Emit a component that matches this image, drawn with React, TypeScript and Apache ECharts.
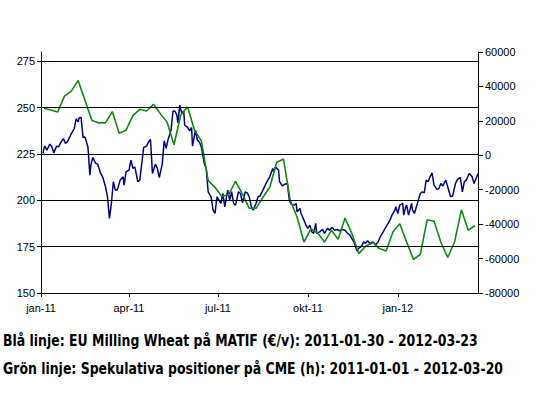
import React, { useEffect, useRef } from "react";
import * as echarts from "echarts";

// Blue line: EU Milling Wheat (EUR/t), left axis
const blueDates: string[] = [
  "2011-01-03","2011-01-04","2011-01-05","2011-01-07","2011-01-10","2011-01-12","2011-01-14","2011-01-17","2011-01-19","2011-01-21",
  "2011-01-24","2011-01-26","2011-01-28","2011-02-01","2011-02-04","2011-02-06","2011-02-08","2011-02-09","2011-02-11","2011-02-13",
  "2011-02-15","2011-02-18","2011-02-20","2011-02-21","2011-02-23","2011-02-26","2011-02-28","2011-03-03","2011-03-05","2011-03-08",
  "2011-03-10","2011-03-12","2011-03-14","2011-03-16","2011-03-18","2011-03-20","2011-03-23","2011-03-26","2011-03-27","2011-03-29",
  "2011-04-01","2011-04-03","2011-04-05","2011-04-07","2011-04-10","2011-04-12","2011-04-14","2011-04-16","2011-04-19","2011-04-21",
  "2011-04-23","2011-04-25","2011-04-28","2011-04-30","2011-05-02","2011-05-05","2011-05-07","2011-05-09","2011-05-11","2011-05-14",
  "2011-05-16","2011-05-18","2011-05-20","2011-05-21","2011-05-23","2011-05-25","2011-05-27","2011-05-28","2011-05-31","2011-06-02",
  "2011-06-04","2011-06-05","2011-06-08","2011-06-10","2011-06-12","2011-06-14","2011-06-17","2011-06-19","2011-06-21","2011-06-24",
  "2011-06-26","2011-06-28","2011-06-30","2011-07-01","2011-07-04","2011-07-06","2011-07-08","2011-07-11","2011-07-13","2011-07-15",
  "2011-07-17","2011-07-19","2011-07-22","2011-07-24","2011-07-26","2011-07-29","2011-07-31","2011-08-02","2011-08-04","2011-08-06",
  "2011-08-09","2011-08-11","2011-08-13","2011-08-16","2011-08-20","2011-08-23","2011-08-26","2011-08-27","2011-08-29","2011-09-01",
  "2011-09-02","2011-09-05","2011-09-07","2011-09-10","2011-09-12","2011-09-14","2011-09-17","2011-09-19","2011-09-20","2011-09-23",
  "2011-09-24","2011-09-27","2011-09-29","2011-10-01","2011-10-03","2011-10-05","2011-10-07","2011-10-09","2011-10-10","2011-10-13",
  "2011-10-16","2011-10-18","2011-10-21","2011-10-23","2011-10-26","2011-10-28","2011-10-31","2011-11-02","2011-11-05","2011-11-08",
  "2011-11-10","2011-11-13","2011-11-14","2011-11-17","2011-11-19","2011-11-20","2011-11-22","2011-11-25","2011-11-27","2011-11-29",
  "2011-12-01","2011-12-04","2011-12-07","2011-12-09","2011-12-12","2011-12-14","2011-12-17","2011-12-19","2011-12-22","2011-12-24",
  "2011-12-26","2011-12-29","2011-12-30","2012-01-01","2012-01-03","2012-01-06","2012-01-07","2012-01-09","2012-01-10","2012-01-12",
  "2012-01-15","2012-01-16","2012-01-18","2012-01-20","2012-01-22","2012-01-24","2012-01-26","2012-01-28","2012-01-30","2012-02-01",
  "2012-02-03","2012-02-05","2012-02-07","2012-02-10","2012-02-12","2012-02-14","2012-02-16","2012-02-19","2012-02-21","2012-02-24",
  "2012-02-26","2012-02-29","2012-03-02","2012-03-05","2012-03-07","2012-03-09","2012-03-11","2012-03-14","2012-03-17","2012-03-19",
  "2012-03-23"
];
const blueValues: number[] = [
  225.3,228.0,229.2,227.0,230.3,229.0,225.6,229.2,228.8,231.0,
  233.3,230.7,231.5,236.0,238.7,244.1,242.3,244.5,244.7,233.9,
  234.2,228.8,213.6,219.0,223.1,219.9,219.5,214.5,212.7,207.3,
  201.9,190.2,198.3,210.0,205.5,205.5,210.9,212.7,208.2,215.4,
  216.3,221.7,217.2,218.0,210.0,210.9,219.5,228.5,229.2,231.5,
  232.8,214.5,219.5,217.2,212.3,219.5,232.1,228.0,232.8,237.8,
  248.2,248.2,245.9,241.8,251.3,246.8,248.2,240.5,239.3,237.4,
  239.3,229.2,237.8,232.4,231.5,228.8,219.9,217.2,204.6,201.9,
  194.7,192.9,201.9,201.0,198.3,203.7,196.5,205.5,200.1,204.6,
  198.3,197.4,204.6,203.7,198.7,204.6,204.0,201.9,196.9,194.7,
  198.3,201.9,202.3,205.5,210.0,212.7,217.2,215.4,218.0,216.3,
  210.0,207.7,208.7,209.1,200.1,197.8,197.4,198.3,193.8,195.6,
  192.9,189.3,186.6,184.9,186.6,183.0,182.2,187.6,182.2,183.0,
  184.3,182.2,184.9,183.9,185.4,183.9,184.3,183.6,184.3,183.9,
  182.5,181.2,180.3,177.6,174.9,172.8,174.1,175.3,177.6,176.8,
  178.2,176.4,177.6,175.9,177.6,180.3,183.0,184.9,187.6,189.3,
  192.0,194.7,196.5,192.9,197.4,198.3,192.0,196.5,197.4,192.0,
  198.3,194.7,192.9,196.5,200.1,203.7,204.6,204.0,210.9,210.0,
  212.7,214.8,208.2,205.9,206.4,209.1,207.7,210.9,207.3,201.9,
  202.3,209.1,211.3,212.3,204.6,210.0,210.9,214.5,212.7,209.1,
  214.5
];

// Green line: speculative positions at CME (contracts), right axis, weekly
const greenDates: string[] = [
  "2011-01-04","2011-01-11","2011-01-18","2011-01-25","2011-02-01","2011-02-08","2011-02-15","2011-02-22",
  "2011-03-01","2011-03-08","2011-03-15","2011-03-22","2011-03-29","2011-04-05","2011-04-12","2011-04-19",
  "2011-04-26","2011-05-03","2011-05-10","2011-05-17","2011-05-24","2011-05-31","2011-06-07","2011-06-14",
  "2011-06-21","2011-06-28","2011-07-05","2011-07-12","2011-07-19","2011-07-26","2011-08-02","2011-08-09",
  "2011-08-16","2011-08-23","2011-08-30","2011-09-06","2011-09-13","2011-09-20","2011-09-27","2011-10-04",
  "2011-10-11","2011-10-18","2011-10-25","2011-11-01","2011-11-08","2011-11-15","2011-11-22","2011-11-29",
  "2011-12-06","2011-12-13","2011-12-20","2011-12-27","2012-01-03","2012-01-10","2012-01-17","2012-01-24",
  "2012-01-31","2012-02-07","2012-02-14","2012-02-21","2012-02-28","2012-03-06","2012-03-13","2012-03-20"
];
const greenValues: number[] = [
  27300,26300,25100,34400,37300,43500,31900,20300,
  18800,19000,25300,12800,14600,23000,26700,25700,
  29600,24200,19200,6100,23400,28000,14600,8400,
  -14700,-18600,-24000,-22800,-15100,-22400,-30800,-30800,
  -24400,-18600,-4200,-2200,-26300,-36000,-50400,-42700,
  -45200,-50400,-43600,-48800,-36500,-45500,-57100,-52900,
  -50400,-54200,-55600,-44600,-39800,-50400,-60600,-57500,
  -37500,-38300,-50400,-59400,-50400,-31700,-43600,-40800
];

const xTickDates: string[] = ["2011-01-01", "2011-04-01", "2011-07-01", "2011-10-01", "2012-01-01"];
const xTickLabels: string[] = ["jan-11", "apr-11", "jul-11", "okt-11", "jan-12"];
const xMin = "2011-01-01";
const xMax = "2012-03-23";
const leftTicks: number[] = [150, 175, 200, 225, 250, 275];

const captionBlue = "Blå linje: EU Milling Wheat på MATIF (€/v): 2011-01-30 - 2012-03-23";
const captionGreen = "Grön linje: Spekulativa positioner på CME (h): 2011-01-01 - 2012-03-20";

function ts(s: string): number {
  const [y, m, d] = s.split("-").map(Number);
  return Date.UTC(y, m - 1, d);
}

export default function App() {
  const ref = useRef<HTMLDivElement>(null);
  useEffect(() => {
    if (!ref.current) return;
    const chart = echarts.init(ref.current, undefined, { renderer: "svg" });
    const tickTs = xTickDates.map(ts);
    const labelFont = { fontFamily: "Liberation Sans, Arial, sans-serif", fontSize: 11, color: "#000" };
    const captionFont = 'bold 15px "DejaVu Sans Condensed", "DejaVu Sans", sans-serif';
    chart.setOption({
      animation: false,
      backgroundColor: "#fff",
      grid: { left: 41, right: 64, top: 52, bottom: 105, containLabel: false },
      xAxis: {
        type: "value",
        min: ts(xMin),
        max: ts(xMax),
        axisLine: { show: true, onZero: false, lineStyle: { color: "#000", width: 1 } },
        axisTick: { show: true, length: 4, lineStyle: { color: "#000" }, customValues: tickTs },
        axisLabel: {
          ...labelFont,
          margin: 9,
          customValues: tickTs,
          formatter: (v: number) => {
            const i = tickTs.findIndex((t) => Math.abs(t - v) < 86400000);
            return i >= 0 ? xTickLabels[i] : "";
          },
        },
        splitLine: { show: false },
      },
      yAxis: [
        {
          type: "value",
          min: 150,
          max: 280,
          position: "left",
          axisLine: { show: true, lineStyle: { color: "#000", width: 1 } },
          axisTick: { show: true, length: 4, lineStyle: { color: "#000" }, customValues: leftTicks },
          axisLabel: { ...labelFont, margin: 6, customValues: leftTicks },
          splitLine: { show: false },
        },
        {
          type: "value",
          min: -80000,
          max: 60000,
          interval: 20000,
          position: "right",
          axisLine: { show: true, lineStyle: { color: "#000", width: 1 } },
          axisTick: { show: true, length: 5, lineStyle: { color: "#000" } },
          axisLabel: { ...labelFont, margin: 7, formatter: (v: number) => String(v) },
          splitLine: { show: false },
        },
      ],
      series: [
        {
          name: "EU Milling Wheat",
          type: "line",
          yAxisIndex: 0,
          showSymbol: false,
          symbol: "none",
          lineStyle: { color: "#000080", width: 1.5 },
          markLine: {
            silent: true,
            symbol: ["none", "none"],
            label: { show: false },
            lineStyle: { color: "#000", width: 1, type: "solid" },
            data: leftTicks.slice(1).map((v) => ({ yAxis: v })),
          },
          data: blueDates.map((d, i) => [ts(d), blueValues[i]]),
        },
        {
          name: "Spekulativa positioner",
          type: "line",
          yAxisIndex: 1,
          showSymbol: false,
          symbol: "none",
          lineStyle: { color: "#108a10", width: 1.6 },
          data: greenDates.map((d, i) => [ts(d), greenValues[i]]),
        },
      ],
      graphic: [
        {
          type: "text",
          x: 3,
          y: 333,
          scaleX: 0.925,
          style: { text: captionBlue, font: captionFont, fill: "#000", textAlign: "left", textVerticalAlign: "top" },
        },
        {
          type: "text",
          x: 3,
          y: 361,
          scaleX: 0.925,
          style: { text: captionGreen, font: captionFont, fill: "#000", textAlign: "left", textVerticalAlign: "top" },
        },
      ],
    });
    return () => chart.dispose();
  }, []);
  return (
    <div
      ref={ref}
      style={{ position: "absolute", left: 0, top: 0, width: 542, height: 398, background: "#fff" }}
    />
  );
}
